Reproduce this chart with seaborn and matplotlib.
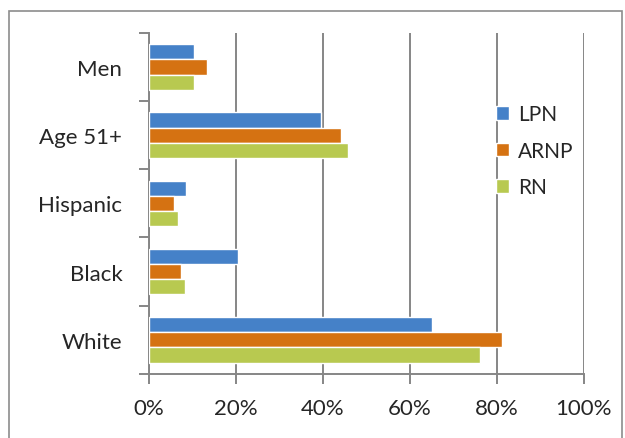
import numpy as np
import pandas as pd
import matplotlib
matplotlib.use("Agg")
import matplotlib.pyplot as plt
import seaborn as sns
from matplotlib.patches import Rectangle
from matplotlib.ticker import PercentFormatter

# values (percent)
categories = ["Men", "Age 51+", "Hispanic", "Black", "White"]
series = ["LPN", "ARNP", "RN"]
lpn = [10.5, 39.6, 8.5, 20.6, 65.2]
arnp = [13.3, 44.2, 5.7, 7.3, 81.1]
rn = [10.5, 45.7, 6.8, 8.3, 76.2]
x_ticks = [0, 20, 40, 60, 80, 100]

df = pd.DataFrame({
    "Group": categories * 3,
    "Type": np.repeat(series, len(categories)),
    "Share": lpn + arnp + rn,
})

sns.set_style("white")
plt.rcParams["font.family"] = ["Lato", "DejaVu Sans"]

palette = {"LPN": "#4581C8", "ARNP": "#D57212", "RN": "#B8C950"}

fig = plt.figure(figsize=(6.25, 4.39), dpi=100)
ax = fig.add_axes([0.238, 0.146, 0.696, 0.777])

# outer chart border like the Excel chart area
fig.patches.append(Rectangle((9 / 625, -0.05), 613 / 625, 1 - 12 / 439 + 0.05,
                             transform=fig.transFigure, fill=False,
                             edgecolor="#8C8C8C", linewidth=1.2))

sns.barplot(data=df, x="Share", y="Group", hue="Type", order=categories,
            hue_order=series, palette=palette, orient="h", width=0.67,
            saturation=1, ax=ax, zorder=3)

ax.set_xlim(0, 100)
ax.set_xticks(x_ticks)
ax.xaxis.set_major_formatter(PercentFormatter(decimals=0))
ax.grid(axis="x", color="#868686", linewidth=1.4, zorder=0)
ax.set_axisbelow(True)

# category boundary ticks on the y axis
ax.set_yticks(np.arange(len(categories)))
ax.set_yticks(np.arange(len(categories) + 1) - 0.5, minor=True)
ax.set_ylim(len(categories) - 0.5, -0.5)
ax.tick_params(axis="y", which="major", length=0, pad=19, labelsize=16)
ax.tick_params(axis="y", which="minor", length=7, width=1.4, color="#868686", left=True)
ax.tick_params(axis="x", which="major", length=7, width=1.4, color="#868686",
               bottom=True, pad=10, labelsize=16)

for side in ["top", "right"]:
    ax.spines[side].set_visible(False)
for side in ["left", "bottom"]:
    ax.spines[side].set_color("#868686")
    ax.spines[side].set_linewidth(1.4)

ax.set_xlabel("")
ax.set_ylabel("")

ax.legend(loc="center left", bbox_to_anchor=(0.798, 0.654), frameon=False,
          fontsize=15, handlelength=0.65, handleheight=0.65,
          handletextpad=0.4, labelspacing=0.8, borderpad=0, borderaxespad=0)

fig.savefig("out.png", dpi=100)
